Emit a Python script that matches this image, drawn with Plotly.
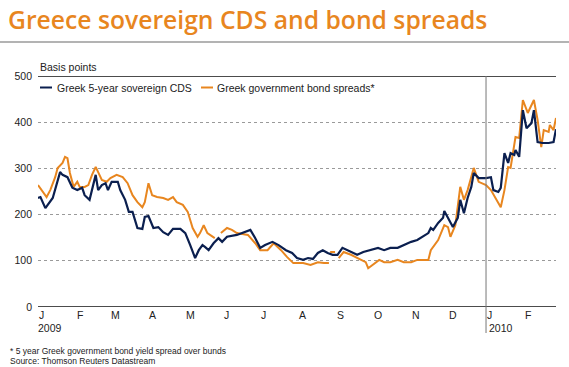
import pandas as pd
import plotly.graph_objects as go

# ---- data ----
# days after 2009-01-01
cds_days = [0, 2, 6, 10, 12, 18, 20, 24, 28, 32, 36, 38, 42, 47, 49, 52, 55, 57, 60, 65, 67, 71, 74, 77,
            81, 85, 87, 90, 94, 98, 102, 106, 110, 116, 120, 124, 128, 131, 134, 136, 139, 143, 147, 150,
            154, 162, 169, 173, 177, 181, 185, 191, 196, 202, 207, 211, 216, 220, 224, 228, 232, 236, 240,
            244, 248, 252, 256, 260, 265, 271, 277, 282, 287, 293, 298, 304, 309, 313, 318, 320, 322, 326,
            330, 331, 334, 338, 342, 344, 347, 350, 353, 355, 359, 365, 369, 371, 375, 377, 380, 383, 385,
            388, 389, 392, 395, 398, 402, 404, 407, 411, 416, 420, 422]
cds_values = [236, 238, 214, 227, 236, 292, 286, 281, 258, 253, 258, 242, 232, 286, 253, 264, 268, 253, 271,
              271, 253, 232, 206, 206, 171, 169, 195, 197, 171, 173, 162, 156, 169, 169, 160, 134, 106, 123,
              134, 130, 123, 138, 149, 141, 152, 156, 162, 167, 149, 128, 134, 141, 134, 123, 117, 106, 102,
              106, 104, 117, 123, 117, 113, 113, 128, 123, 119, 113, 119, 123, 128, 123, 128, 128, 134, 141,
              145, 152, 160, 171, 167, 182, 193, 208, 193, 173, 193, 232, 203, 236, 260, 290, 279, 279, 281,
              253, 249, 258, 333, 312, 333, 329, 340, 325, 426, 387, 398, 426, 357, 355, 355, 357, 385]

bond_days = [0, 3, 7, 10, 14, 16, 20, 22, 24, 26, 29, 32, 34, 38, 41, 44, 47, 49, 52, 56, 59, 64, 69, 73,
             77, 81, 85, 87, 90, 93, 97, 102, 106, 110, 113, 118, 122, 126, 130, 132, 135, 138, 142, 144,
             146, 149, 154, 158, 162, 171, 177, 181, 187, 192, 198, 203, 208, 212, 216, 222, 228, 233, 237,
             237.5, 238, 242, 243, 245, 249, 255, 260, 267, 269, 274, 278, 282, 287, 293, 298, 304, 309, 313,
             318, 320, 326, 331, 334, 336, 340, 344, 347, 350, 355, 359, 365, 369, 373, 377, 380, 383, 385,
             389, 392, 395, 399, 404, 407, 410, 412, 416, 417, 420, 422]
bond_values = [264, 253, 238, 253, 281, 301, 312, 325, 322, 290, 260, 271, 260, 260, 264, 286, 303, 292, 275,
               271, 279, 286, 281, 268, 242, 227, 216, 227, 268, 242, 238, 236, 232, 238, 227, 221, 206, 171,
               152, 160, 177, 160, 152, 149, None, 160, 171, 167, 160, 156, 138, 123, 123, 138, 123, 108, 95,
               95, 95, 91, 97, 95, 95, None, 119, 119, None, 106, 119, 113, 106, 97, 84, 95, 102, 97, 97, 102,
               97, 97, 102, 102, 102, 123, 145, 177, 173, 152, 177, 260, 232, 253, 301, 271, 264, 253, 236,
               216, 253, 303, 301, 368, 366, 448, 420, 448, 405, 346, 383, 379, 394, 383, 409]

month_letters = ["J", "F", "M", "A", "M", "J", "J", "A", "S", "O", "N", "D", "J", "F"]
month_starts = pd.date_range("2009-01-01", periods=14, freq="MS")
y_ticks = [0, 100, 200, 300, 400, 500]

series_names = ["Greek 5-year sovereign CDS", "Greek government bond spreads*"]
title_text = "Greece sovereign CDS and bond spreads"
unit_text = "Basis points"
footnote = "* 5 year Greek government bond yield spread over bunds"
source = "Source: Thomson Reuters Datastream"

# ---- style ----
NAVY = "#0b1f4f"
ORANGE = "#e8861f"
TXT = "#222222"
FONT = "Liberation Sans, Arial, sans-serif"
W, H = 569, 367
L, R, T, B = 38, 13, 76, 60
PW, PH = W - L - R, H - T - B

def px(x):
    return (x - L) / PW

def py(y):
    return (H - B - y) / PH

base = pd.Timestamp("2009-01-01")
cds_x = [base + pd.Timedelta(days=d) for d in cds_days]
bond_x = [base + pd.Timedelta(days=d) for d in bond_days]

fig = go.Figure()
fig.add_trace(go.Scatter(x=bond_x, y=bond_values, mode="lines", name=series_names[1],
                         line=dict(color=ORANGE, width=2), showlegend=False))
fig.add_trace(go.Scatter(x=cds_x, y=cds_values, mode="lines", name=series_names[0],
                         line=dict(color=NAVY, width=2.2), showlegend=False))

fig.update_layout(
    width=W, height=H, margin=dict(l=L, r=R, t=T, b=B),
    paper_bgcolor="white", plot_bgcolor="white",
    font=dict(family=FONT, size=10.5, color=TXT),
    showlegend=False,
)
fig.update_xaxes(range=["2009-01-01", "2010-02-27"], showticklabels=False, showgrid=False,
                 zeroline=False, showline=False, ticks="")
fig.update_yaxes(range=[0, 500], tickvals=y_ticks, showgrid=True, gridcolor="#9a9a9a",
                 griddash="dot", gridwidth=1, zeroline=False, showline=False, ticks="",
                 tickfont=dict(size=10.5, color=TXT), ticklabelstandoff=5)

shapes = []
# solid lines at 0 and 500
for v, w in [(0, 1.6), (500, 1.6)]:
    shapes.append(dict(type="line", xref="paper", yref="y", x0=0, x1=1, y0=v, y1=v,
                       line=dict(color="#111111", width=w), layer="above"))
# year divider
shapes.append(dict(type="line", xref="x", yref="paper", x0="2010-01-01", x1="2010-01-01",
                   y0=py(333), y1=1, line=dict(color="#777777", width=1)))
# title rule
shapes.append(dict(type="line", xref="paper", yref="paper", x0=px(0), x1=px(W), y0=py(42), y1=py(42),
                   line=dict(color="#9a9a9a", width=1.5)))
# legend samples
shapes.append(dict(type="line", xref="paper", yref="paper", x0=px(40), x1=px(52), y0=py(87.5), y1=py(87.5),
                   line=dict(color=NAVY, width=2)))
shapes.append(dict(type="line", xref="paper", yref="paper", x0=px(201), x1=px(213), y0=py(87.5), y1=py(87.5),
                   line=dict(color=ORANGE, width=2)))
fig.update_layout(shapes=shapes)

ann = []
ann.append(dict(text=title_text, xref="paper", yref="paper", x=px(6), y=py(19), xanchor="left",
                yanchor="middle", showarrow=False,
                font=dict(family="Open Sans, sans-serif", size=24.7, color=ORANGE, weight=600)))
ann.append(dict(text=unit_text, xref="paper", yref="paper", x=px(38), y=py(67), xanchor="left",
                yanchor="middle", showarrow=False, font=dict(size=10.5, color=TXT)))
ann.append(dict(text=series_names[0], xref="paper", yref="paper", x=px(55), y=py(88), xanchor="left",
                yanchor="middle", showarrow=False, font=dict(size=10.5, color=TXT)))
ann.append(dict(text=series_names[1], xref="paper", yref="paper", x=px(215), y=py(88), xanchor="left",
                yanchor="middle", showarrow=False, font=dict(size=10.5, color=TXT)))
for letter, d in zip(month_letters, month_starts):
    ann.append(dict(text=letter, xref="x", yref="paper", x=d, y=py(315), xanchor="left",
                    yanchor="middle", xshift=-1, showarrow=False, font=dict(size=10.5, color=TXT)))
ann.append(dict(text="2009", xref="x", yref="paper", x=month_starts[0], y=py(328), xanchor="left",
                yanchor="middle", xshift=-2, showarrow=False, font=dict(size=10.5, color=TXT)))
ann.append(dict(text="2010", xref="x", yref="paper", x=month_starts[12], y=py(328), xanchor="left",
                yanchor="middle", xshift=1, showarrow=False, font=dict(size=10.5, color=TXT)))
ann.append(dict(text=footnote, xref="paper", yref="paper", x=px(8), y=py(351), xanchor="left",
                yanchor="middle", showarrow=False, font=dict(size=8.5, color=TXT)))
ann.append(dict(text=source, xref="paper", yref="paper", x=px(8), y=py(361), xanchor="left",
                yanchor="middle", showarrow=False, font=dict(size=8.5, color=TXT)))
fig.update_layout(annotations=ann)

fig.write_html("out.html", config={"displayModeBar": False},
               post_script="document.body.style.margin='0';document.body.style.overflow='hidden';")
